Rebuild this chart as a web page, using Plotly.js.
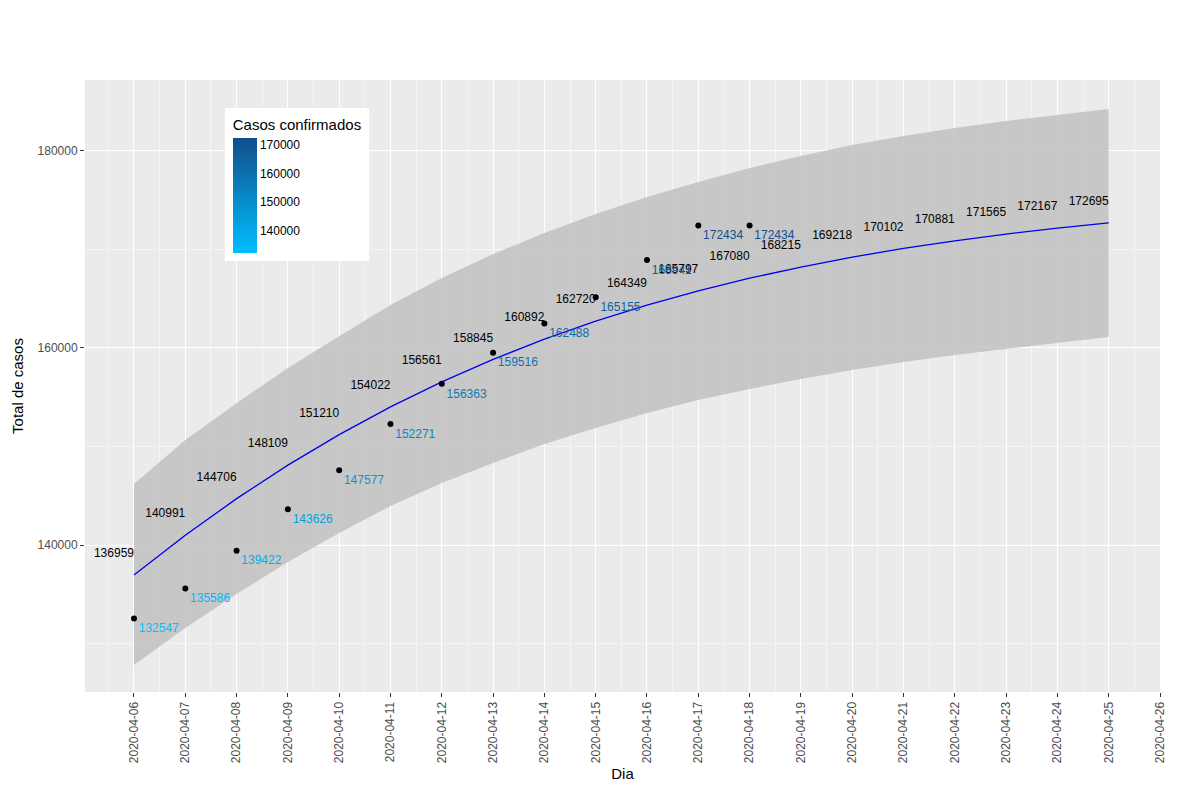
<html><head><script src="https://cdn.plot.ly/plotly-3.0.1.min.js"></script></head><body style="margin:0">
<div id="c" style="width:1200px;height:800px"></div>
<script>
const dates=['2020-04-06','2020-04-07','2020-04-08','2020-04-09','2020-04-10','2020-04-11','2020-04-12','2020-04-13','2020-04-14','2020-04-15','2020-04-16','2020-04-17','2020-04-18','2020-04-19','2020-04-20','2020-04-21','2020-04-22','2020-04-23','2020-04-24','2020-04-25'];
const fitted=[136959,140991,144706,148109,151210,154022,156561,158845,160892,162720,164349,165797,167080,168215,169218,170102,170881,171565,172167,172695];
const upper=[146190,150660,154400,157970,161200,164360,167100,169540,171670,173600,175320,176850,178270,179480,180610,181520,182330,183040,183650,184250];
const lower=[127820,131580,135030,138270,141220,143960,146290,148320,150250,151880,153400,154720,155830,156850,157760,158580,159290,159900,160500,161110];
const obsDates=dates.slice(0,13);
const observed=[132547,135586,139422,143626,147577,152271,156363,159516,162488,165155,168941,172434,172434];
const titleText='Italy (18/04/2020) - Logistico';
const subtitleText='Fonte: OMS (https://ourworldindata.org/coronavirus-source-data),<br>RMSE (%): 6.7, BIAS(%):1.42';
const lo=[0,191,255], hi=[16,78,139];
const mn=Math.min(...observed), mx=Math.max(...observed);
const cols=observed.map(v=>{const t=(v-mn)/(mx-mn);return 'rgb('+lo.map((a,i)=>Math.round(a+(hi[i]-a)*t)).join(',')+')';});
const labelLift=1500;
const data=[
{x:dates,y:upper,mode:'lines',line:{width:0},hoverinfo:'skip',showlegend:false},
{x:dates,y:lower,mode:'lines',line:{width:0},fill:'tonexty',fillcolor:'rgba(190,190,190,0.8)',hoverinfo:'skip',showlegend:false},
{x:dates,y:fitted,mode:'lines',line:{color:'#0000EE',width:1.3},showlegend:false},
{x:dates,y:fitted.map(v=>v+labelLift),mode:'text',text:fitted.map(String),textposition:'top left',textfont:{size:12,color:'black',family:'Liberation Sans'},showlegend:false,hoverinfo:'skip'},
{x:obsDates,y:observed,mode:'markers+text',marker:{color:'black',size:6},text:observed.map(String),textposition:'bottom right',textfont:{size:12,color:cols,family:'Liberation Sans'},showlegend:false},
{x:[obsDates[0]],y:[observed[0]],mode:'markers',hoverinfo:'skip',showlegend:false,marker:{size:0.1,opacity:0,color:observed,cmin:mn,cmax:mx,colorscale:[[0,'rgb(0,191,255)'],[1,'rgb(16,78,139)']],showscale:true,colorbar:{x:0.13,xanchor:'left',y:0.955,yanchor:'top',len:0.25,thickness:24,outlinewidth:0,bgcolor:'white',tickvals:[140000,150000,160000,170000],tickformat:'d',ticks:'',tickfont:{size:12,color:'black'},title:{text:'Casos confirmados',side:'top',font:{size:15,color:'black'}},xpad:8,ypad:8}}}
];
const layout={width:1200,height:800,paper_bgcolor:'white',plot_bgcolor:'#EBEBEB',
font:{family:'Liberation Sans',color:'black'},
margin:{l:85,r:40,t:80,b:108},
annotations:[
{text:titleText,xref:'paper',yref:'container',x:0.5,y:0.985,yanchor:'top',showarrow:false,font:{size:18}},
{text:subtitleText,xref:'paper',yref:'container',x:0.5,y:0.952,yanchor:'top',showarrow:false,font:{size:15}}],
xaxis:{type:'date',range:['2020-04-05 01:05','2020-04-26 00:00'],dtick:86400000,tick0:'2020-04-06',tickformat:'%Y-%m-%d',tickangle:-90,gridcolor:'white',gridwidth:1.4,ticks:'outside',ticklen:4,tickcolor:'#333',tickfont:{size:12,color:'#4D4D4D'},zeroline:false,
 minor:{dtick:86400000,tick0:'2020-04-05 12:00',gridcolor:'#F5F5F5',gridwidth:0.6},
 title:{text:'Dia',font:{size:15},standoff:6}},
yaxis:{range:[125080,187200],tickvals:[140000,160000,180000],tickformat:'d',gridcolor:'white',gridwidth:1.4,ticks:'outside',ticklen:4,tickcolor:'#333',tickfont:{size:12,color:'#4D4D4D'},zeroline:false,
 minor:{tickvals:[130000,150000,170000],gridcolor:'#F5F5F5',gridwidth:0.6},
 title:{text:'Total de casos',font:{size:15},standoff:10}}
};
Plotly.newPlot('c',data,layout,{displayModeBar:false});
</script></body></html>
